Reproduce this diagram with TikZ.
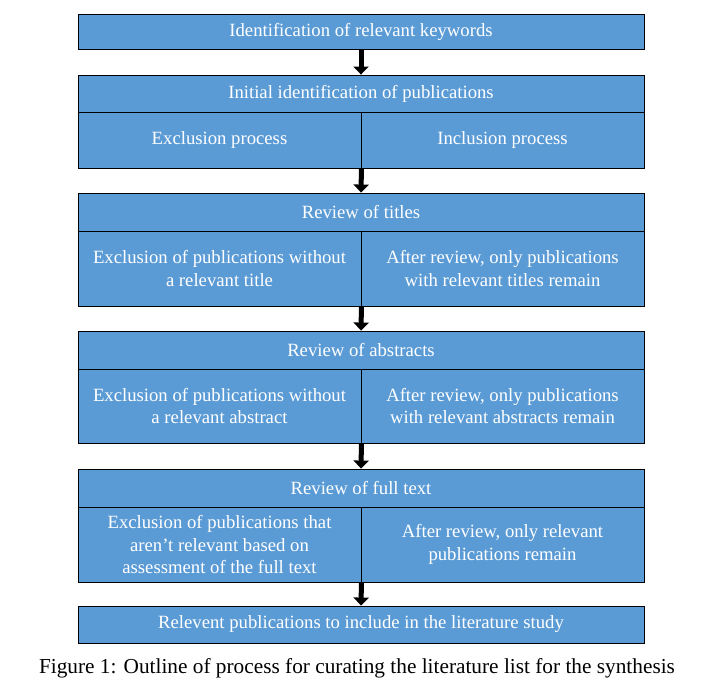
\documentclass[tikz,border=0pt]{standalone}
\usepackage{fontspec}
\setmainfont{Liberation Serif}
\usetikzlibrary{arrows.meta}
\definecolor{boxblue}{HTML}{5B9BD5}
\tikzset{
	box/.style={draw=black, fill=boxblue, text=white, line width=0.9pt, inner sep=0pt, align=center, font=\fontsize{18.7}{22.5}\selectfont},
	hdr/.style={box, minimum width=566pt},
	half/.style={box, minimum width=283pt},
	step arrow/.style={line width=5pt, -{Triangle[width=15pt,length=8pt]}}
}
\begin{document}
\begin{tikzpicture}[x=1pt, y=-1pt]
	\useasboundingbox (0, 0) rectangle (717, 697);
	\node[hdr, minimum height=35pt] (kw) at (361, 31.5) {Identification of relevant keywords};
	\node[hdr, minimum height=37pt] (init) at (361, 93.5) {Initial identification of publications};
	\node[half, minimum height=56pt] (excl) at (219.5, 140) {Exclusion process};
	\node[half, minimum height=56pt] (incl) at (502.5, 140) {Inclusion process};

	\node[hdr, minimum height=38pt] (titles) at (361, 212) {Review of titles};
	\node[half, minimum height=75pt] (texcl) at (219.5, 268.5) {Exclusion of publications without\\a relevant title};
	\node[half, minimum height=75pt] (tincl) at (502.5, 268.5) {After review, only publications\\with relevant titles remain};

	\node[hdr, minimum height=38pt] (abstr) at (361, 350) {Review of abstracts};
	\node[half, minimum height=74pt] (aexcl) at (219.5, 406) {Exclusion of publications without\\a relevant abstract};
	\node[half, minimum height=74pt] (aincl) at (502.5, 406) {After review, only publications\\with relevant abstracts remain};

	\node[hdr, minimum height=38pt] (full) at (361, 488) {Review of full text};
	\node[half, minimum height=75pt] (fexcl) at (219.5, 544.5) {Exclusion of publications that\\aren't relevant based on\\assessment of the full text};
	\node[half, minimum height=75pt] (fincl) at (502.5, 544.5) {After review, only relevant\\publications remain};

	\node[hdr, minimum height=37pt] (final) at (361, 624.5) {Relevent publications to include in the literature study};
	\node[font=\fontsize{21.3}{24}\selectfont] (caption) at (357, 668) {Figure 1: Outline of process for curating the literature list for the synthesis};

	\draw[step arrow] (kw.south) -- (init.north);
	\draw[step arrow] (excl.south east) -- (titles.north);
	\draw[step arrow] (texcl.south east) -- (abstr.north);
	\draw[step arrow] (aexcl.south east) -- (full.north);
	\draw[step arrow] (fexcl.south east) -- (final.north);
\end{tikzpicture}
\end{document}
